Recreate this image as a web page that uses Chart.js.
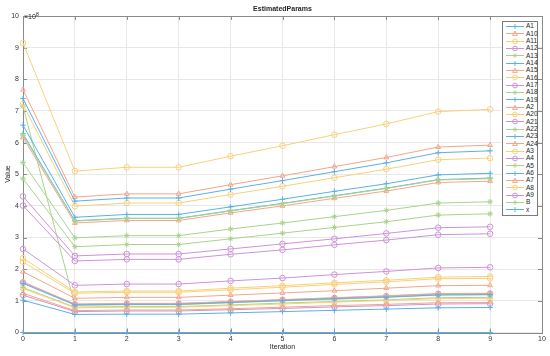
<!DOCTYPE html>
<html>
<head>
<meta charset="utf-8">
<script src="https://cdn.jsdelivr.net/npm/chart.js@4.4.1/dist/chart.umd.min.js"></script>
<style>
  body { margin: 0; background: #fff; font-family: "Liberation Sans", Arial, sans-serif; }
  #wrap { position: relative; width: 550px; height: 356px; overflow: hidden; }
  #chart { position: absolute; left: 0; top: 0; }
  .txt { position: absolute; color: #262626; font-size: 7px; white-space: nowrap; line-height: 1; }
  #title { left: 0; width: 565px; top: 5px; text-align: center; font-weight: bold; }
  #xlabel { left: 0; width: 565px; top: 343px; text-align: center; }
  #ylabel { left: 7px; top: 174px; transform: translate(-50%, -50%) rotate(-90deg); }
  #expo { left: 24px; top: 12px; }
  #expo sup { font-size: 5px; vertical-align: 3px; }
  #legend { position: absolute; left: 502px; top: 21px; width: 36px; padding: 1px 0; background: #fff;
            border: 1px solid #7a7a7a; box-sizing: border-box; }
  .row { height: 7.33px; display: flex; align-items: center; }
  .row svg { margin-left: 3px; flex: none; }
  .row span { margin-left: 2px; font-size: 6.5px; color: #262626; line-height: 1; }
</style>
</head>
<body>
<div id="wrap">
  <canvas id="chart" width="550" height="356"></canvas>
  <div id="title" class="txt">EstimatedParams</div>
  <div id="xlabel" class="txt">Iteration</div>
  <div id="ylabel" class="txt">Value</div>
  <div id="expo" class="txt">&times;10<sup>8</sup></div>
  <div id="legend"></div>
</div>
<script>
// iterations on the x axis
const iterations = [0, 1, 2, 3, 4, 5, 6, 7, 8, 9];
const xTicks = [0, 1, 2, 3, 4, 5, 6, 7, 8, 9, 10];
const yTicks = [0, 1, 2, 3, 4, 5, 6, 7, 8, 9, 10]; // x 10^8

// estimated parameter values
const A1  = [7.39e8, 4.15e8, 4.25e8, 4.25e8, 4.53e8, 4.80e8, 5.08e8, 5.36e8, 5.68e8, 5.74e8];
const A10 = [7.67e8, 4.28e8, 4.38e8, 4.38e8, 4.67e8, 4.95e8, 5.24e8, 5.53e8, 5.86e8, 5.92e8];
const A11 = [9.15e8, 5.10e8, 5.22e8, 5.22e8, 5.57e8, 5.90e8, 6.25e8, 6.59e8, 6.98e8, 7.05e8];
const A12 = [4.30e8, 2.42e8, 2.48e8, 2.48e8, 2.64e8, 2.80e8, 2.96e8, 3.13e8, 3.31e8, 3.34e8];
const A13 = [6.23e8, 3.52e8, 3.60e8, 3.60e8, 3.84e8, 4.07e8, 4.31e8, 4.55e8, 4.82e8, 4.86e8];
const A14 = [6.55e8, 3.64e8, 3.73e8, 3.73e8, 3.97e8, 4.21e8, 4.46e8, 4.70e8, 4.98e8, 5.03e8];
const A15 = [6.16e8, 3.46e8, 3.54e8, 3.54e8, 3.78e8, 4.00e8, 4.24e8, 4.47e8, 4.74e8, 4.78e8];
const A16 = [7.21e8, 3.99e8, 4.09e8, 4.09e8, 4.36e8, 4.62e8, 4.89e8, 5.16e8, 5.46e8, 5.51e8];
const A17 = [4.01e8, 2.26e8, 2.31e8, 2.31e8, 2.47e8, 2.61e8, 2.77e8, 2.92e8, 3.09e8, 3.12e8];
const A18 = [5.37e8, 2.99e8, 3.06e8, 3.06e8, 3.27e8, 3.46e8, 3.66e8, 3.86e8, 4.09e8, 4.13e8];
const A19 = [6.28e8, 3.53e8, 3.61e8, 3.61e8, 3.85e8, 4.08e8, 4.32e8, 4.56e8, 4.83e8, 4.88e8];
const A2  = [1.92e8, 1.08e8, 1.11e8, 1.11e8, 1.18e8, 1.25e8, 1.32e8, 1.40e8, 1.48e8, 1.49e8];
const A20 = [2.35e8, 1.28e8, 1.31e8, 1.31e8, 1.40e8, 1.48e8, 1.57e8, 1.65e8, 1.75e8, 1.77e8];
const A21 = [2.64e8, 1.49e8, 1.53e8, 1.53e8, 1.63e8, 1.72e8, 1.83e8, 1.93e8, 2.04e8, 2.06e8];
const A22 = [4.86e8, 2.71e8, 2.78e8, 2.78e8, 2.96e8, 3.14e8, 3.32e8, 3.50e8, 3.71e8, 3.75e8];
const A23 = [1.55e8, 0.87e8, 0.89e8, 0.89e8, 0.95e8, 1.01e8, 1.07e8, 1.12e8, 1.19e8, 1.20e8];
const A24 = [1.60e8, 0.90e8, 0.92e8, 0.92e8, 0.98e8, 1.04e8, 1.10e8, 1.16e8, 1.23e8, 1.24e8];
const A3  = [2.23e8, 1.24e8, 1.27e8, 1.27e8, 1.35e8, 1.43e8, 1.52e8, 1.60e8, 1.70e8, 1.71e8];
const A4  = [1.58e8, 0.89e8, 0.91e8, 0.91e8, 0.97e8, 1.03e8, 1.09e8, 1.15e8, 1.22e8, 1.23e8];
const A5  = [7.15e8, 0.86e8, 0.88e8, 0.88e8, 0.94e8, 1.00e8, 1.05e8, 1.11e8, 1.18e8, 1.19e8];
const A6  = [1.02e8, 0.57e8, 0.58e8, 0.58e8, 0.62e8, 0.66e8, 0.70e8, 0.74e8, 0.78e8, 0.79e8];
const A7  = [1.24e8, 0.69e8, 0.71e8, 0.71e8, 0.75e8, 0.80e8, 0.85e8, 0.89e8, 0.94e8, 0.95e8];
const A8  = [1.39e8, 0.78e8, 0.80e8, 0.80e8, 0.85e8, 0.90e8, 0.96e8, 1.01e8, 1.07e8, 1.08e8];
const A9  = [1.18e8, 0.66e8, 0.68e8, 0.68e8, 0.72e8, 0.76e8, 0.81e8, 0.85e8, 0.90e8, 0.91e8];
const B   = [1.42e8, 0.80e8, 0.82e8, 0.82e8, 0.87e8, 0.93e8, 0.98e8, 1.03e8, 1.10e8, 1.11e8];
const x   = [0, 0, 0, 0, 0, 0, 0, 0, 0, 0];

const seriesNames = ['A1', 'A10', 'A11', 'A12', 'A13', 'A14', 'A15', 'A16', 'A17', 'A18', 'A19',
  'A2', 'A20', 'A21', 'A22', 'A23', 'A24', 'A3', 'A4', 'A5', 'A6', 'A7', 'A8', 'A9', 'B', 'x'];
const seriesValues = [A1, A10, A11, A12, A13, A14, A15, A16, A17, A18, A19,
  A2, A20, A21, A22, A23, A24, A3, A4, A5, A6, A7, A8, A9, B, x];

// colour / marker cycle (blue +, orange ^, yellow o, purple o, green *)
const colors = ['#5ab1e6', '#f6a589', '#f9d07a', '#cd93d8', '#a9d38a'];
const markers = ['cross', 'triangle', 'circle', 'circle', 'star'];

const datasets = seriesNames.map((name, i) => ({
  label: name,
  data: seriesValues[i].map((v, j) => ({ x: iterations[j], y: v })),
  borderColor: colors[i % 5],
  borderWidth: 1,
  pointStyle: markers[i % 5],
  pointRadius: 2.8,
  pointBorderWidth: 1,
  pointBorderColor: colors[i % 5],
  pointBackgroundColor: 'rgba(0,0,0,0)',
  tension: 0,
  clip: false
}));

// box + inward ticks like the original axes
const boxPlugin = {
  id: 'box',
  beforeDatasetsDraw(chart) {
    const { ctx, chartArea: a, scales } = chart;
    ctx.save();
    ctx.strokeStyle = '#8a8a8a';
    ctx.lineWidth = 1;
    ctx.strokeRect(Math.round(a.left) + 0.5, Math.round(a.top) + 0.5,
      Math.round(a.right - a.left), Math.round(a.bottom - a.top));
    ctx.beginPath();
    xTicks.forEach(t => {
      const px = Math.round(scales.x.getPixelForValue(t)) + 0.5;
      ctx.moveTo(px, a.bottom); ctx.lineTo(px, a.bottom - 4);
      ctx.moveTo(px, a.top); ctx.lineTo(px, a.top + 4);
    });
    yTicks.forEach(t => {
      const py = Math.round(scales.y.getPixelForValue(t * 1e8)) + 0.5;
      ctx.moveTo(a.left, py); ctx.lineTo(a.left + 4, py);
      ctx.moveTo(a.right, py); ctx.lineTo(a.right - 4, py);
    });
    ctx.stroke();
    ctx.restore();
  }
};

new Chart(document.getElementById('chart'), {
  type: 'line',
  data: { datasets },
  options: {
    responsive: false,
    animation: false,
    layout: { padding: { left: 0, right: 8, top: 16, bottom: 0 } },
    plugins: { legend: { display: false }, tooltip: { enabled: false } },
    scales: {
      x: {
        type: 'linear', min: 0, max: 10,
        afterFit: s => { s.height = 23.5; },
        afterBuildTicks: s => { s.ticks = xTicks.map(v => ({ value: v })); },
        grid: { color: '#e8e8e8', drawTicks: false },
        border: { display: false },
        ticks: { padding: 2, color: '#333', font: { size: 7, family: 'Liberation Sans' } }
      },
      y: {
        type: 'linear', min: 0, max: 1e9,
        afterFit: s => { s.width = 23; },
        afterBuildTicks: s => { s.ticks = yTicks.map(v => ({ value: v * 1e8 })); },
        grid: { color: '#e8e8e8', drawTicks: false },
        border: { display: false },
        ticks: { padding: 4, color: '#333', font: { size: 7, family: 'Liberation Sans' },
                 callback: v => v / 1e8 }
      }
    }
  },
  plugins: [boxPlugin]
});

// legend drawn as html on top of the plot area
function markerSvg(style, c) {
  const cx = 9, cy = 3.5, r = 2.4;
  let m = '';
  if (style === 'cross') m = `<path d="M${cx - r},${cy}H${cx + r}M${cx},${cy - r}V${cy + r}" stroke="${c}"/>`;
  else if (style === 'triangle') m = `<polygon points="${cx},${cy - r} ${cx + r},${cy + r * 0.8} ${cx - r},${cy + r * 0.8}" fill="none" stroke="${c}"/>`;
  else if (style === 'circle') m = `<circle cx="${cx}" cy="${cy}" r="${r}" fill="none" stroke="${c}"/>`;
  else m = `<path d="M${cx - r},${cy}H${cx + r}M${cx},${cy - r}V${cy + r}M${cx - 1.7},${cy - 1.7}L${cx + 1.7},${cy + 1.7}M${cx - 1.7},${cy + 1.7}L${cx + 1.7},${cy - 1.7}" stroke="${c}" stroke-width="0.8"/>`;
  return `<svg width="18" height="7" viewBox="0 0 18 7"><line x1="0" y1="${cy}" x2="18" y2="${cy}" stroke="${c}" stroke-width="1"/>${m}</svg>`;
}

const legend = document.getElementById('legend');
seriesNames.forEach((name, i) => {
  const row = document.createElement('div');
  row.className = 'row';
  row.innerHTML = markerSvg(markers[i % 5], colors[i % 5]) + `<span>${name}</span>`;
  legend.appendChild(row);
});
</script>
</body>
</html>
